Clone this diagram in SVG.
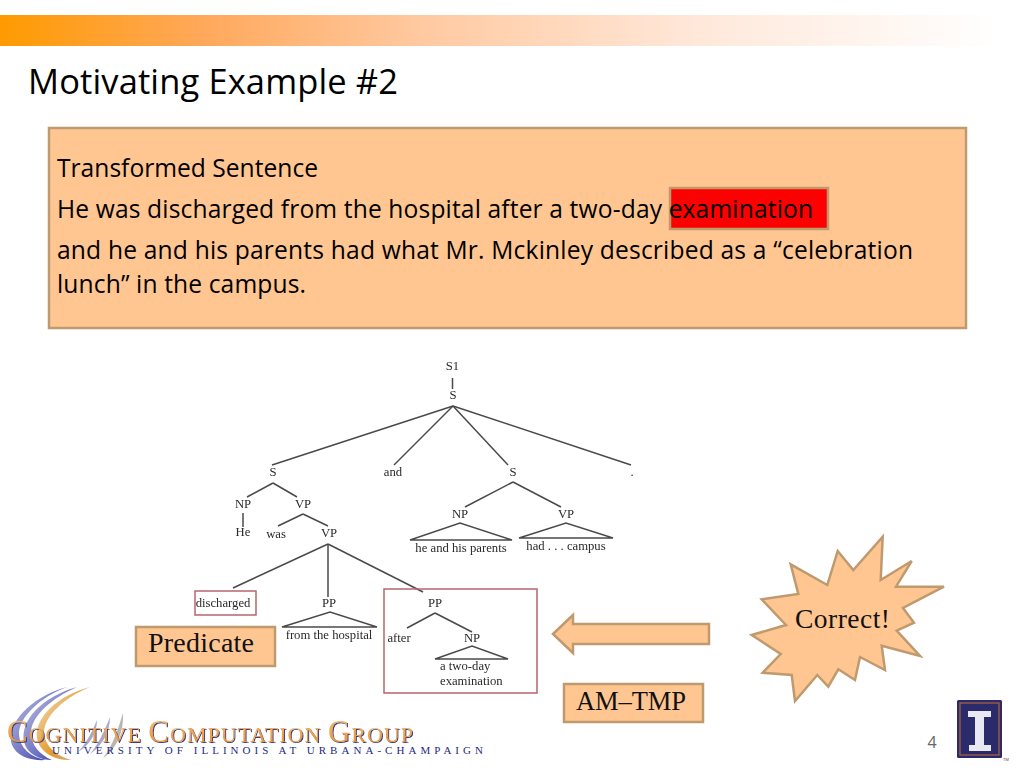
<svg xmlns="http://www.w3.org/2000/svg" width="1024" height="768" viewBox="0 0 1024 768">
<style>
.box{fill:#FFC692;stroke:#BF9A6E;stroke-width:2.500}
.body{font-family:"Open Sans","Noto Sans",sans-serif;font-size:24.6px;fill:#000}
.lab{font-family:"Liberation Serif",serif;font-size:28px;fill:#111}
.t{font-family:"Liberation Serif",serif;font-size:12.700px;fill:#2a2a2a;text-anchor:middle}
.tree line{stroke:#4a4a4a;stroke-width:1.500}
.tri{fill:none;stroke:#4a4a4a;stroke-width:1.400}
.rb{fill:none;stroke:#B5656D;stroke-width:1.500}
</style>
<defs>
<linearGradient id="bar" x1="0" x2="1" y1="0" y2="0">
<stop offset="0" stop-color="#FF9A00"/><stop offset=".2" stop-color="#FFA85A"/><stop offset=".42" stop-color="#FFC9A0"/><stop offset=".7" stop-color="#FFE8DA"/><stop offset="1" stop-color="#FFFFFF"/>
</linearGradient>
<linearGradient id="gold" x1="0" x2="0" y1="0" y2="1">
<stop offset="0" stop-color="#F9C47C"/><stop offset="1" stop-color="#E08A2A"/>
</linearGradient>
<linearGradient id="sw1" x1="0" x2="1" y1="0" y2="1">
<stop offset="0" stop-color="#C5C8E2"/><stop offset=".6" stop-color="#6A6FC0"/><stop offset="1" stop-color="#1E2A8C"/>
</linearGradient>
<linearGradient id="sw2" x1="0" x2="1" y1="0" y2="1">
<stop offset="0" stop-color="#EFE3C8"/><stop offset=".6" stop-color="#E39A2A"/><stop offset="1" stop-color="#C8BFD8"/>
</linearGradient>
<filter id="sh" x="-5%" y="-20%" width="110%" height="140%"><feDropShadow dx="1" dy="1" stdDeviation=".5" flood-color="#3A3A80"/></filter>
<filter id="soft"><feGaussianBlur stdDeviation=".35"/></filter>
</defs>
<rect width="1024" height="768" fill="#fff"/>
<rect id="topbar" x="0" y="15" width="1000" height="31" fill="url(#bar)"/>
<text id="title" x="28" y="94" font-family="'Open Sans','Noto Sans',sans-serif" font-size="34.500px" fill="#000" textLength="370" lengthAdjust="spacing">Motivating Example #2</text>

<g id="sentence">
<rect class="box" x="49" y="128" width="917" height="200"/>
<rect x="670" y="188" width="158" height="41" fill="#FF0000" stroke="#BF9A6E" stroke-width="2.500"/>
<text class="body" x="57" y="177" textLength="261" lengthAdjust="spacing">Transformed Sentence</text>
<text class="body" x="57" y="218" textLength="756" lengthAdjust="spacing">He was discharged from the hospital after a two-day examination</text>
<text class="body" x="57" y="259" textLength="856" lengthAdjust="spacing">and he and his parents had what Mr. Mckinley described as a “celebration</text>
<text class="body" x="57" y="293" textLength="249" lengthAdjust="spacing">lunch” in the campus.</text>
</g>

<g id="tree" class="tree" filter="url(#soft)">
<line x1="452.500" y1="378" x2="452.500" y2="389"/>
<line x1="453" y1="406" x2="272" y2="465"/>
<line x1="453" y1="406" x2="394" y2="465"/>
<line x1="453" y1="406" x2="508" y2="465"/>
<line x1="453" y1="406" x2="631" y2="465"/>
<line x1="273" y1="483" x2="247" y2="497"/>
<line x1="273" y1="483" x2="297" y2="497"/>
<line x1="243" y1="513" x2="243" y2="527"/>
<line x1="303" y1="514" x2="278" y2="526"/>
<line x1="303" y1="514" x2="328" y2="526"/>
<line x1="328" y1="544" x2="233" y2="588"/>
<line x1="328" y1="544" x2="328" y2="597"/>
<line x1="328" y1="544" x2="423" y2="592"/>
<line x1="513" y1="482" x2="465" y2="507"/>
<line x1="513" y1="482" x2="561" y2="507"/>
<line x1="435" y1="613" x2="407" y2="628"/>
<line x1="435" y1="613" x2="472" y2="632"/>
<path class="tri" d="M282 627L330 612L377 627Z"/>
<path class="tri" d="M435 659L472 646L508 659Z"/>
<path class="tri" d="M410 540L460 523L512 540Z"/>
<path class="tri" d="M519 538L566 523L613 538Z"/>
<rect class="rb" x="195" y="591" width="61" height="24"/>
<rect class="rb" x="384" y="589" width="153" height="104"/>
<text class="t" x="452.500" y="370">S1</text>
<text class="t" x="453" y="399">S</text>
<text class="t" x="273" y="476">S</text>
<text class="t" x="393" y="476">and</text>
<text class="t" x="513" y="476">S</text>
<text class="t" x="632" y="476">.</text>
<text class="t" x="243" y="508">NP</text>
<text class="t" x="303" y="508">VP</text>
<text class="t" x="243" y="536">He</text>
<text class="t" x="276" y="538">was</text>
<text class="t" x="329" y="537">VP</text>
<text class="t" x="223" y="607">discharged</text>
<text class="t" x="329" y="607">PP</text>
<text class="t" x="435" y="607">PP</text>
<text class="t" x="329" y="639">from the hospital</text>
<text class="t" x="399" y="642">after</text>
<text class="t" x="472" y="642">NP</text>
<text class="t" x="440" y="670" style="text-anchor:start">a two-day</text>
<text class="t" x="440" y="685" style="text-anchor:start">examination</text>
<text class="t" x="460" y="518">NP</text>
<text class="t" x="566" y="518">VP</text>
<text class="t" x="461" y="552">he and his parents</text>
<text class="t" x="566" y="550">had . . . campus</text>
</g>

<g id="predicate">
<rect class="box" x="136" y="627" width="139" height="39"/>
<text class="lab" x="148" y="652" textLength="106" lengthAdjust="spacing">Predicate</text>
</g>
<g id="amtmp">
<rect class="box" x="564" y="684" width="139" height="38"/>
<text class="lab" x="576" y="710" style="font-size:26.500px" textLength="110" lengthAdjust="spacing">AM–TMP</text>
</g>
<g id="connectors">
<path class="box" d="M553 634L573 615V624H709V644H573V653Z"/>
</g>
<g id="correct">
<path class="box" d="M882.700 536.700L880.700 580L911.700 561L896 586.700L944 586.700L903 608L914 622.700L896.700 630.700L920 656L881.700 645.700L885 670L860 657L855 680L838.300 669.300L828.300 686.700L817.300 675L795 701L791.700 675L762.700 672.700L780.700 654L751.700 635L786 625L761.700 599.300L798.300 594L790.700 564.300L827.300 585L837.700 551L853.300 570Z"/>
<text class="lab" x="795" y="628" style="font-size:27.500px" textLength="95" lengthAdjust="spacing">Correct!</text>
</g>

<g id="logo">
<path d="M67 687C30 697 5 725 12 745C17 757 32 761 46 760C30 757 20 748 19 735C18 718 40 697 67 687Z" fill="url(#sw1)"/>
<path d="M77 687C42 697 20 720 24 742C27 754 40 760 52 760C40 755 31 745 31 733C31 716 52 698 77 687Z" fill="url(#sw1)"/>
<path d="M90 687C58 695 34 718 37 738C39 752 55 761 72 760C55 756 45 745 44 733C44 716 65 697 90 687Z" fill="url(#sw2)"/>
<path d="M123 713C118 730 112 747 103 758C116 750 124 732 123 713Z" fill="#B9B6B0"/>
<path d="M110 717C105 730 98 745 90 754C102 746 110 732 110 717Z" fill="#A9A9C8"/>
<path d="M97 720C92 732 86 744 78 752C90 745 97 733 97 720Z" fill="#A9A9C8"/>
<text x="7" y="742" font-family="'Liberation Serif',serif" font-size="22px" fill="url(#gold)" filter="url(#sh)" textLength="406" lengthAdjust="spacing"><tspan font-size="31px">C</tspan>OGNITIVE <tspan font-size="31px">C</tspan>OMPUTATION <tspan font-size="31px">G</tspan>ROUP</text>
<text x="52" y="754" font-family="'Liberation Serif',serif" font-size="11px" fill="#1E2A80" textLength="431" lengthAdjust="spacing">UNIVERSITY OF ILLINOIS AT URBANA-CHAMPAIGN</text>
</g>
<text id="pagenum" x="932" y="748" text-anchor="middle" font-family="'Open Sans',sans-serif" font-size="16px" fill="#666">4</text>
<g id="illinois">
<rect x="957" y="700" width="45" height="58" rx="1.500" fill="#2B2A6B"/>
<rect x="960" y="703" width="39" height="52" fill="none" stroke="#A5603F" stroke-width="1.300"/>
<path d="M968 711H991V717H984V745H991V751H969V745H975V717H968Z" fill="#E8E8F2"/>
<text x="1003" y="761" font-family="'Liberation Sans',sans-serif" font-size="4px" fill="#444">TM</text>
</g>
</svg>
